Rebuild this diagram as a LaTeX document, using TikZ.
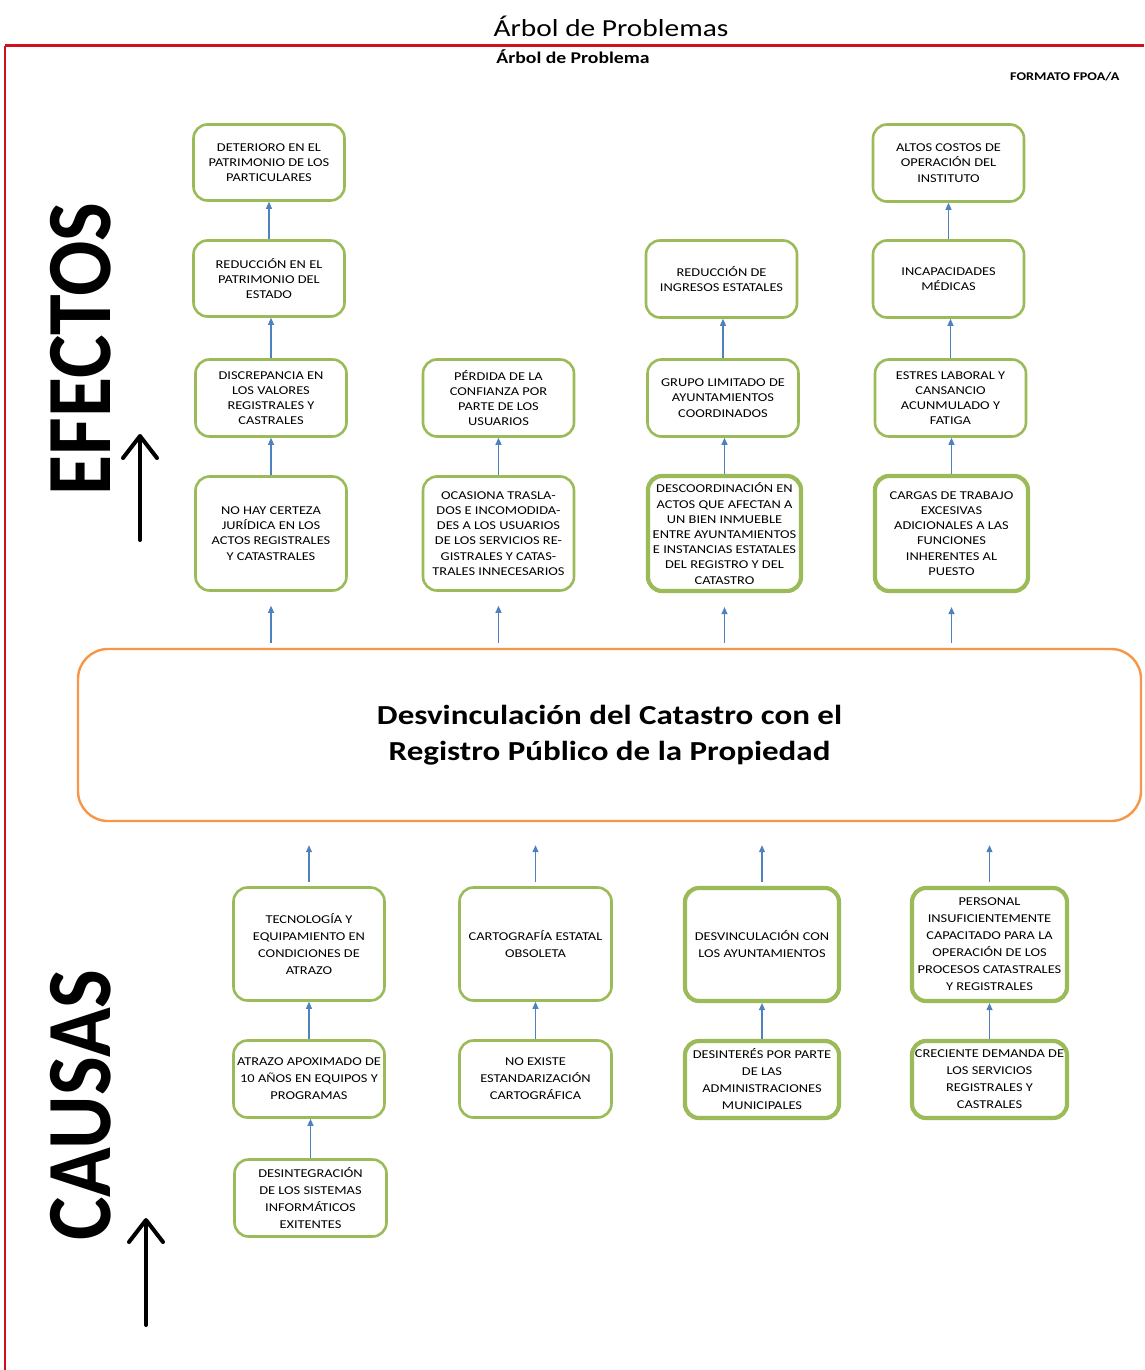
\documentclass[tikz,border=0pt]{standalone}
\usepackage{fontspec}
\setmainfont{Carlito}[FakeStretch=1.2]
\newfontfamily\rotulofont{Carlito}
\usetikzlibrary{arrows.meta}

\definecolor{olivo}{HTML}{9BBB59}
\definecolor{naranja}{HTML}{F79646}
\definecolor{azul}{HTML}{4F81BD}
\definecolor{rojo}{HTML}{D0101E}

\begin{document}
\begin{tikzpicture}[x=1pt,y=-1pt,
  caja/.style={draw=olivo, line width=2.6pt, rounded corners=14pt, fill=white, align=center,
    inner sep=1pt, minimum width=151pt, font=\fontsize{12}{15.2}\selectfont},
  cajag/.style={caja, line width=4.2pt},
  causa/.style={caja, font=\fontsize{12}{17}\selectfont},
  causag/.style={causa, line width=4.2pt},
  flecha/.style={draw=azul, line width=1.1pt, -{Triangle[length=7pt,width=6pt]}},
  flechan/.style={line width=4pt, line cap=round, -{Straight Barb[length=22pt,width=34pt,round]}}]

\useasboundingbox (0,0) rectangle (1144,1370);

% marco y encabezado
\draw[rojo, line width=3pt] (1144,46) -- (5,46);
\draw[rojo, line width=1.6pt] (5,46) -- (5,1370);
\node (titulo) at (611,26) {\fontsize{24.5}{28}\selectfont Árbol de Problemas};
\node (subtitulo) at (573,57) {\bfseries\fontsize{16.4}{18}\selectfont Árbol de Problema};
\node[anchor=east] (formato) at (1123,77) {\bfseries\fontsize{11.8}{13}\selectfont FORMATO FPOA/A};

% rotulos laterales
\node[rotate=90] (efectos) at (81,349) {\rotulofont\bfseries\fontsize{82}{82}\selectfont\scalebox{1}[1.12]{EFECTOS}};
\node[rotate=90] (causas) at (81,1105) {\rotulofont\bfseries\fontsize{82}{82}\selectfont\scalebox{1}[1.12]{CAUSAS}};
\coordinate (efbase) at (140,540);
\coordinate (eftip) at (140,434);
\coordinate (cabase) at (146,1325);
\coordinate (catip) at (146,1218);
\draw[flechan] (efbase) -- (eftip);
\draw[flechan] (cabase) -- (catip);

% problema central
\node[draw=naranja, line width=2.4pt, rounded corners=30pt, minimum width=1063pt, minimum height=172pt,
  align=center, font=\bfseries\fontsize{27.5}{36}\selectfont] (core) at (609.5,735)
  {Desvinculación del Catastro con el\\Registro Público de la Propiedad};

% efectos
\node[caja, minimum height=76pt] (e1a) at (269,162.5) {DETERIORO EN EL\\PATRIMONIO DE LOS\\PARTICULARES};
\node[caja, minimum height=76pt] (e1b) at (269,278.5) {REDUCCIÓN EN EL\\PATRIMONIO DEL\\ESTADO};
\node[caja, minimum height=77pt] (e1c) at (271,398) {DISCREPANCIA EN\\LOS VALORES\\REGISTRALES Y\\CASTRALES};
\node[caja, minimum height=114pt] (e1d) at (271,533.5) {NO HAY CERTEZA\\JURÍDICA EN LOS\\ACTOS REGISTRALES\\Y CATASTRALES};

\node[caja, minimum height=77pt] (e2c) at (498.5,398) {PÉRDIDA DE LA\\CONFIANZA POR\\PARTE DE LOS\\USUARIOS};
\node[caja, minimum height=114pt] (e2d) at (498.5,533.5) {OCASIONA TRASLA-\\DOS E INCOMODIDA-\\DES A LOS USUARIOS\\DE LOS SERVICIOS RE-\\GISTRALES Y CATAS-\\TRALES INNECESARIOS};

\node[caja, minimum height=77pt] (e3b) at (721.5,279) {REDUCCIÓN DE\\INGRESOS ESTATALES};
\node[caja, minimum height=77pt] (e3c) at (723,398) {GRUPO LIMITADO DE\\AYUNTAMIENTOS\\COORDINADOS};
\node[cajag, minimum width=153pt, minimum height=115pt, inner sep=0pt] (e3d) at (724.5,533.5) {DESCOORDINACIÓN EN\\ACTOS QUE AFECTAN A\\UN BIEN INMUEBLE\\ENTRE AYUNTAMIENTOS\\E INSTANCIAS ESTATALES\\DEL REGISTRO Y DEL\\CATASTRO};

\node[caja, minimum height=77pt] (e4a) at (948.5,163) {ALTOS COSTOS DE\\OPERACIÓN DEL\\INSTITUTO};
\node[caja, minimum height=77pt] (e4b) at (948.5,279) {INCAPACIDADES\\MÉDICAS};
\node[caja, minimum height=77pt] (e4c) at (950.5,398) {ESTRES LABORAL Y\\CANSANCIO\\ACUNMULADO Y\\FATIGA};
\node[cajag, minimum width=153pt, minimum height=115pt] (e4d) at (951.5,533.5) {CARGAS DE TRABAJO\\EXCESIVAS\\ADICIONALES A LAS\\FUNCIONES\\INHERENTES AL\\PUESTO};

% causas
\node[causa, minimum height=113pt] (c1a) at (309,944) {TECNOLOGÍA Y\\EQUIPAMIENTO EN\\CONDICIONES DE\\ATRAZO};
\node[causa, minimum height=77pt] (c1b) at (309,1079) {ATRAZO APOXIMADO DE\\10 AÑOS EN EQUIPOS Y\\PROGRAMAS};
\node[causa, minimum width=152pt, minimum height=77pt] (c1c) at (310.5,1198) {DESINTEGRACIÓN\\DE LOS SISTEMAS\\INFORMÁTICOS\\EXITENTES};

\node[causa, minimum width=152pt, minimum height=113pt] (c2a) at (535.5,944) {CARTOGRAFÍA ESTATAL\\OBSOLETA};
\node[causa, minimum width=152pt, minimum height=77pt] (c2b) at (535.5,1079) {NO EXISTE\\ESTANDARIZACIÓN\\CARTOGRÁFICA};

\node[causag, minimum width=154pt, minimum height=113pt] (c3a) at (762,944.5) {DESVINCULACIÓN CON\\LOS AYUNTAMIENTOS};
\node[causag, minimum width=154pt, minimum height=77pt] (c3b) at (762,1079.5) {DESINTERÉS POR PARTE\\DE LAS\\ADMINISTRACIONES\\MUNICIPALES};

\node[causag, minimum width=155pt, minimum height=113pt, inner sep=0pt] (c4a) at (989.5,944.5) {PERSONAL\\INSUFICIENTEMENTE\\CAPACITADO PARA LA\\OPERACIÓN DE LOS\\PROCESOS CATASTRALES\\Y REGISTRALES};
\node[causag, minimum width=155pt, minimum height=77pt, inner sep=0pt] (c4b) at (989.5,1079.5) {CRECIENTE DEMANDA DE\\LOS SERVICIOS\\REGISTRALES Y\\CASTRALES};

% flechas de efectos
\draw[flecha] (e1b.north) -- (e1b.north |- e1a.south);
\draw[flecha] (e1c.north) -- (e1c.north |- e1b.south);
\draw[flecha] (e1d.north) -- (e1d.north |- e1c.south);
\draw[flecha] (e2d.north) -- (e2d.north |- e2c.south);
\draw[flecha] (e3c.north) -- (e3c.north |- e3b.south);
\draw[flecha] (e3d.north) -- (e3d.north |- e3c.south);
\draw[flecha] (e4b.north) -- (e4b.north |- e4a.south);
\draw[flecha] (e4c.north) -- (e4c.north |- e4b.south);
\draw[flecha] (e4d.north) -- (e4d.north |- e4c.south);

\draw[flecha, shorten <=5pt, shorten >=14pt] (core.north -| e1d.south) -- (e1d.south);
\draw[flecha, shorten <=5pt, shorten >=14pt] (core.north -| e2d.south) -- (e2d.south);
\draw[flecha, shorten <=5pt, shorten >=14pt] (core.north -| e3d.south) -- (e3d.south);
\draw[flecha, shorten <=5pt, shorten >=14pt] (core.north -| e4d.south) -- (e4d.south);

% flechas de causas
\draw[flecha] (c1b.north) -- (c1b.north |- c1a.south);
\draw[flecha] (c1c.north) -- (c1c.north |- c1b.south);
\draw[flecha] (c2b.north) -- (c2b.north |- c2a.south);
\draw[flecha] (c3b.north) -- (c3b.north |- c3a.south);
\draw[flecha] (c4b.north) -- (c4b.north |- c4a.south);

\draw[flecha, shorten <=4pt, shorten >=23pt] (c1a.north) -- (c1a.north |- core.south);
\draw[flecha, shorten <=4pt, shorten >=23pt] (c2a.north) -- (c2a.north |- core.south);
\draw[flecha, shorten <=4pt, shorten >=23pt] (c3a.north) -- (c3a.north |- core.south);
\draw[flecha, shorten <=4pt, shorten >=23pt] (c4a.north) -- (c4a.north |- core.south);

\end{tikzpicture}
\end{document}
